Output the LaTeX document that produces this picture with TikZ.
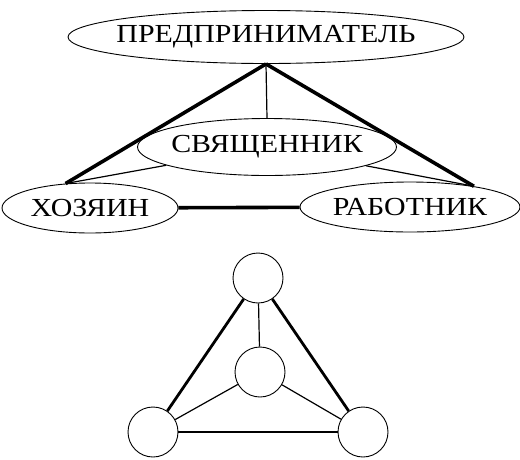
\documentclass[tikz,border=0pt]{standalone}
\usepackage{fontspec}
\setmainfont[FakeStretch=1.15]{Liberation Serif}
\usetikzlibrary{shapes.geometric}

\begin{document}
\begin{tikzpicture}[
    x=1pt, y=-1pt,
    role/.style={draw, ellipse, inner xsep=-60pt, inner ysep=-10pt, line width=0.9pt, font=\fontsize{26}{30}\selectfont},
    ring/.style={draw, circle, inner sep=0pt, minimum size=50pt, line width=0.9pt},
    strong/.style={line width=3.6pt},
    rim/.style={line width=2.8pt},
    weak/.style={line width=1.2pt},
]
\useasboundingbox (0,0) rectangle (520,459);

% Roles
\node[role, minimum width=396pt, minimum height=53pt] (pred) at (266, 37) {ПРЕДПРИНИМАТЕЛЬ};
\node[role, minimum width=259pt, minimum height=57pt] (svya) at (267, 147) {СВЯЩЕННИК};
\node[role, minimum width=176pt, minimum height=50pt] (hoz) at (90, 208) {ХОЗЯИН};
\node[role, minimum width=220pt, minimum height=50pt] (rab) at (410, 207) {РАБОТНИК};

% Role links
\draw[strong] (pred.south) -- (hoz.135);
\draw[strong] (pred.south) -- (rab.18);
\draw[strong] (hoz) -- (rab);
\draw[weak] (pred.south) -- (svya.north);
\draw[weak] (hoz.135) -- (svya);
\draw[weak] (rab.18) -- (svya);

% Graph
\node[ring] (top) at (258, 278) {};
\node[ring] (mid) at (260, 372) {};
\node[ring] (lft) at (153, 432) {};
\node[ring] (rgt) at (363, 432) {};

% Graph links
\draw[rim] (top) -- (lft);
\draw[rim] (top) -- (rgt);
\draw[rim] (lft) -- (rgt);
\draw[weak] (top) -- (mid);
\draw[weak] (mid) -- (lft);
\draw[weak] (mid) -- (rgt);

\end{tikzpicture}
\end{document}
